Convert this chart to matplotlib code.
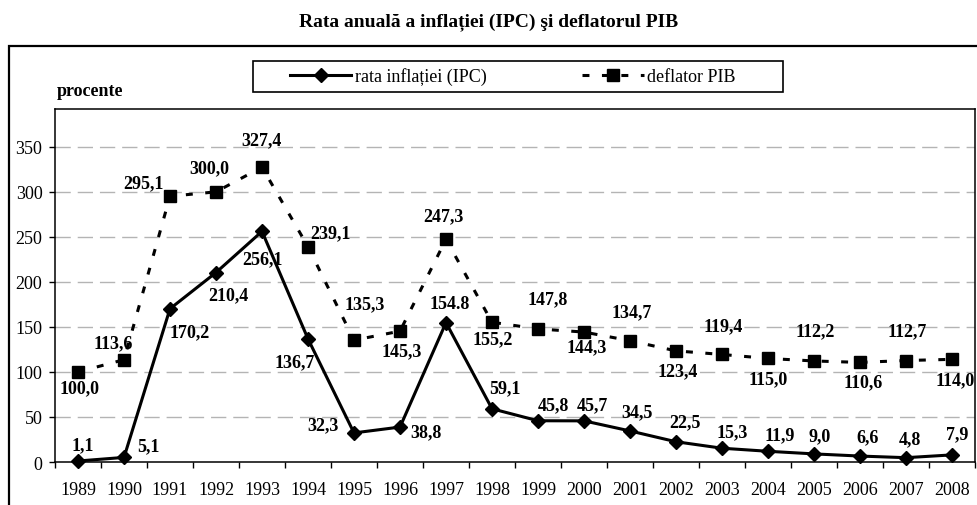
import matplotlib
matplotlib.use("Agg")
import matplotlib.pyplot as plt
from matplotlib.patches import Rectangle
from matplotlib.lines import Line2D

# Data
years = [str(y) for y in range(1989, 2009)]
ipc = [1.1, 5.1, 170.2, 210.4, 256.1, 136.7, 32.3, 38.8, 154.8, 59.1,
       45.8, 45.7, 34.5, 22.5, 15.3, 11.9, 9.0, 6.6, 4.8, 7.9]
deflator = [100.0, 113.6, 295.1, 300.0, 327.4, 239.1, 135.3, 145.3, 247.3, 155.2,
            147.8, 144.3, 134.7, 123.4, 119.4, 115.0, 112.2, 110.6, 112.7, 114.0]
ipc_labels = ["1,1", "5,1", "170,2", "210,4", "256,1", "136,7", "32,3", "38,8", "154.8", "59,1",
              "45,8", "45,7", "34,5", "22,5", "15,3", "11,9", "9,0", "6,6", "4,8", "7,9"]
def_labels = ["100,0", "113,6", "295,1", "300,0", "327,4", "239,1", "135,3", "145,3", "247,3", "155,2",
              "147,8", "144,3", "134,7", "123,4", "119,4", "115,0", "112,2", "110,6", "112,7", "114,0"]

# label offsets in pixels (dx, dy) - dy positive = down
ipc_off = [(5, -16), (24, -12), (20, 23), (12, 22), (0, 27), (-13, 23), (-31, -8), (26, 5), (4, -19), (13, -21),
           (15, -16), (8, -16), (7, -19), (9, -20), (10, -16), (12, -17), (6, -18), (8, -19), (4, -19), (5, -21)]
def_off = [(2, 16), (-11, -17), (-27, -14), (-7, -24), (-1, -27), (22, -14), (11, -36), (2, 20), (-3, -24), (1, 16),
           (10, -30), (3, 15), (2, -29), (2, 20), (1, -29), (0, 20), (1, -30), (3, 19), (1, -30), (3, 20)]

plt.rcParams['font.family'] = ['Liberation Serif', 'DejaVu Serif']
plt.rcParams['lines.scale_dashes'] = False

W, H = 978, 506
fig = plt.figure(figsize=(W / 100, H / 100), dpi=100)
ax = fig.add_axes([55 / W, 1 - 463 / H, 920 / W, 353 / H])

x = list(range(len(years)))
ax.plot(x, ipc, color='black', lw=2.2, marker='D', ms=6.8, zorder=3, clip_on=False)
ax.plot(x, deflator, color='black', lw=2.2, linestyle=(0, (5, 9)), marker='s', ms=8.5,
        zorder=3, clip_on=False)

for i in x:
    dx, dy = ipc_off[i]
    ax.annotate(ipc_labels[i], (i, ipc[i]), xytext=(dx, -dy), textcoords='offset pixels',
                ha='center', va='center', fontsize=13, fontweight='bold', annotation_clip=False)
    dx, dy = def_off[i]
    ax.annotate(def_labels[i], (i, deflator[i]), xytext=(dx, -dy), textcoords='offset pixels',
                ha='center', va='center', fontsize=13, fontweight='bold', annotation_clip=False)

ax.set_xlim(-0.5, len(years) - 0.5)
ax.set_ylim(0, 392)
ax.set_yticks(range(0, 351, 50))
ax.set_xticks([i - 0.5 for i in range(len(years) + 1)])
ax.set_xticklabels([])
ax.set_xticks(x, minor=True)
ax.set_xticklabels(years, minor=True)
ax.tick_params(axis='x', which='major', direction='out', length=4, width=1)
ax.tick_params(axis='x', which='minor', length=0, pad=14, labelsize=13)
ax.tick_params(axis='y', direction='out', length=4, width=1, pad=5, labelsize=13)
for g in range(50, 351, 50):
    ax.axhline(g, color='#b4b4b4', lw=1, linestyle=(0, (11, 5)), zorder=1)
for s in ax.spines.values():
    s.set_linewidth(1.1)
    s.set_color('black')

# outer frame
fig.patches.append(Rectangle((9 / W, -0.1), 1.1, 1 - 47 / H + 0.1, transform=fig.transFigure,
                             fill=False, lw=1.6, edgecolor='black'))

# legend frame and entries
fig.patches.append(Rectangle((253 / W, 1 - 93 / H), 530 / W, 31 / H, transform=fig.transFigure,
                             fill=False, lw=1.2, edgecolor='black'))
handles = [Line2D([], [], color='black', lw=2.2, marker='D', ms=6.8),
           Line2D([], [], color='black', lw=2.2, linestyle=(0, (5, 9)), marker='s', ms=8.5)]
fig.legend(handles, ['rata inflației (IPC)', 'deflator PIB'], loc='center left',
           bbox_to_anchor=(290 / W, 1 - 77.5 / H), ncol=2, frameon=False, fontsize=13,
           handlelength=3.4, handletextpad=0.2, columnspacing=5.3, borderpad=0, borderaxespad=0)

fig.text(0.5, 1 - 22 / H, 'Rata anuală a inflației (IPC) şi deflatorul PIB', ha='center', va='center',
         fontsize=14, fontweight='bold')
fig.text(57 / W, 1 - 92 / H, 'procente', ha='left', va='center', fontsize=13, fontweight='bold')

fig.savefig('out.png', dpi=100)
